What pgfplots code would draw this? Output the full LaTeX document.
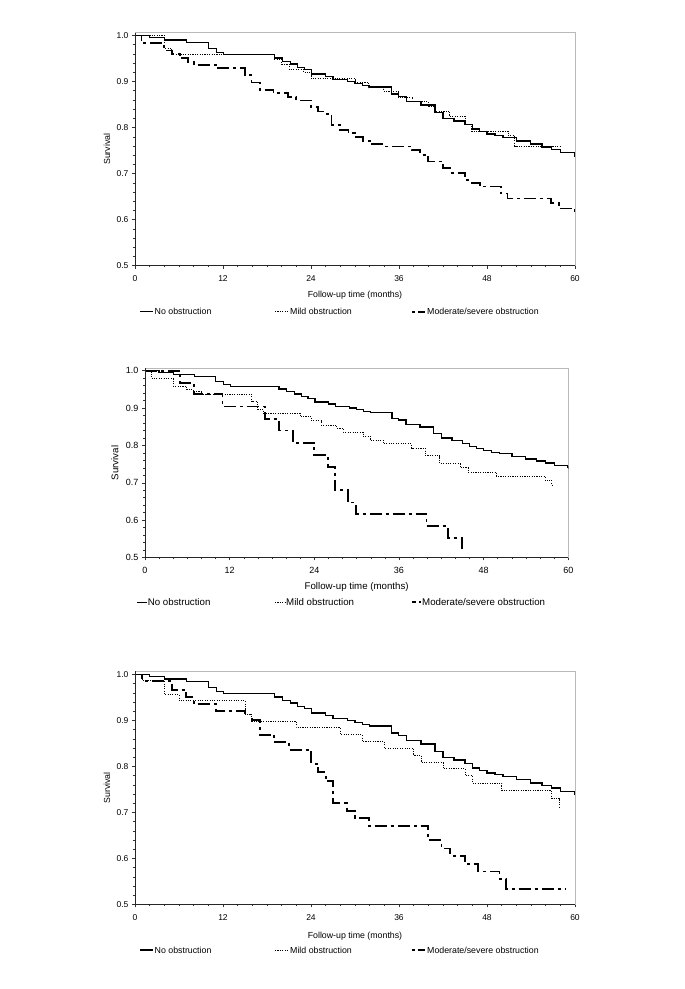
\documentclass[border=0pt]{standalone}
\usepackage{fontspec}
\setmainfont{Liberation Sans}
\usepackage{pgfplots}
\pgfplotsset{compat=1.18}

\pgfplotstableread{
x y
0 1.000
2.0 0.995
4.0 0.990
7.0 0.985
10.0 0.971
11.1 0.963
12.1 0.958
19.0 0.951
20.1 0.944
21.2 0.938
22.2 0.931
23.1 0.926
24.1 0.916
26.0 0.911
27.0 0.905
29.0 0.900
30.0 0.896
31.0 0.891
32.0 0.888
35.0 0.873
35.9 0.868
37.0 0.856
39.0 0.849
40.9 0.832
42.0 0.820
43.5 0.814
45.0 0.806
46.0 0.797
47.0 0.791
48.0 0.786
49.1 0.782
50.2 0.778
52.0 0.771
53.9 0.764
55.5 0.758
56.8 0.753
58.0 0.746
59.9 0.742
60 0.737
}\noobs

\pgfplotstableread{
x y
0 1.000
4.0 0.972
5.0 0.958
19.0 0.948
20.0 0.938
21.0 0.927
23.0 0.920
24.0 0.907
30.0 0.899
31.8 0.886
33.9 0.878
35.9 0.866
37.9 0.856
40.0 0.845
40.9 0.836
42.9 0.824
45.0 0.807
45.9 0.792
50.9 0.783
51.8 0.760
58.0 0.760
}\mildA

\pgfplotstableread{
x y
0 1.000
0.9 0.983
4.0 0.967
5.0 0.959
6.1 0.951
7.2 0.942
8.0 0.936
11.1 0.929
15.0 0.914
15.9 0.898
17.0 0.882
18.9 0.875
20.9 0.866
22.0 0.859
24.0 0.844
25.0 0.835
26.0 0.830
26.8 0.806
28.0 0.795
29.1 0.788
30.0 0.779
31.1 0.771
32.0 0.764
33.9 0.759
37.7 0.751
38.9 0.741
40.0 0.726
42.0 0.712
43.0 0.702
45.0 0.686
45.9 0.679
47.0 0.672
49.9 0.657
50.8 0.646
56.7 0.636
57.8 0.624
60 0.617
}\modA

\pgfplotstableread{
x y
0 1.000
0.9 0.979
4.0 0.959
5.9 0.950
6.8 0.944
8.0 0.937
15.1 0.917
16.0 0.896
16.8 0.886
22.0 0.877
23.6 0.866
25.0 0.854
27.2 0.846
28.1 0.836
30.9 0.825
31.9 0.814
33.8 0.804
37.8 0.793
39.7 0.773
41.8 0.751
44.7 0.740
45.8 0.728
49.8 0.718
56.7 0.707
57.6 0.694
57.9 0.694
}\mildB

\pgfplotstableread{
x y
0 1.000
5.0 0.968
6.9 0.938
11.0 0.904
17.0 0.871
19.0 0.840
21.0 0.807
24.0 0.775
25.9 0.743
26.9 0.680
28.8 0.647
29.9 0.616
39.9 0.584
42.9 0.552
44.9 0.520
}\modB

\pgfplotstableread{
x y
0 1.000
1.0 0.986
4.0 0.956
6.0 0.943
15.0 0.914
15.9 0.898
22.0 0.884
28.0 0.869
31.0 0.854
34.0 0.840
38.0 0.825
39.0 0.809
42.0 0.795
45.0 0.780
46.0 0.764
50.0 0.748
56.8 0.731
57.9 0.711
}\mildC

\pgfplotstableread{
x y
0 1.000
1.0 0.986
5.0 0.967
7.0 0.951
8.0 0.936
11.0 0.920
15.0 0.913
16.0 0.901
17.0 0.869
19.0 0.853
21.0 0.836
24.0 0.806
25.0 0.788
26.0 0.768
27.0 0.720
28.9 0.703
30.0 0.688
31.9 0.671
40.0 0.640
41.8 0.622
43.0 0.606
45.0 0.588
46.8 0.572
49.7 0.556
50.6 0.534
58.7 0.534
}\modC

\tikzset{
  lnA/.style={black, line width=1.3pt},
  lnB/.style={black, line width=0.9pt, dash pattern=on 1.1pt off 1.3pt},
  lnC/.style={black, line width=1.7pt, dash pattern=on 12pt off 4pt on 3pt off 4pt},
}

\pgfplotsset{
  kmaxis/.style={
    scale only axis,
    anchor=south west,
    xmin=0, xmax=60, ymin=0.5,
    xtick={0,12,24,36,48,60},
    minor x tick num=5,
    ytick={0.5,0.6,0.7,0.8,0.9,1.0},
    minor y tick num=4,
    yticklabel style={/pgf/number format/.cd, fixed, fixed zerofill, precision=1},
    xticklabel style={yshift=-3.5pt},
    /pgf/number format/assume math mode=true,
    tick align=outside,
    xtick pos=bottom, ytick pos=left,
    major tick length=3pt, minor tick length=1.8pt,
    axis line style={gray!55, line width=0.6pt},
    tick style={black!80, line width=0.5pt},
    every axis plot/.append style={const plot, mark=none},
  },
}

\begin{document}
\begin{tikzpicture}
\path[use as bounding box] (0pt,0pt) rectangle (685pt,989pt);

% ---------- Panel 1 ----------
\begin{axis}[kmaxis, at={(135pt,723.3pt)}, width=440pt, height=233pt, ymax=1.006,
  ticklabel style={font=\fontsize{8.5}{9}\selectfont},
  xlabel={Follow-up time (months)}, ylabel={Survival},
  label style={font=\fontsize{8.8}{10}\selectfont},
  xlabel style={at={(axis description cs:0.5,-0.126)}, anchor=center},
  ylabel style={at={(axis description cs:-0.0636,0.5)}, anchor=center},
]
\addplot[lnA] table {\noobs};
\addplot[lnB] table {\mildA};
\addplot[lnC] table {\modA};
\draw[black!85, line width=0.6pt] (rel axis cs:0,1) -- (rel axis cs:0,0) -- (rel axis cs:1,0);
\end{axis}
\begin{scope}[font=\fontsize{8.8}{10}\selectfont]
\draw[lnA] (140pt,677.3pt) -- (153pt,677.3pt); \node[anchor=west, inner sep=0pt] at (154.5pt,677.3pt) {No obstruction};
\draw[lnB] (275pt,677.3pt) -- (288pt,677.3pt); \node[anchor=west, inner sep=0pt] at (290pt,677.3pt) {Mild obstruction};
\draw[lnC, dash pattern=on 3pt off 3pt on 7pt off 2pt] (412pt,677.3pt) -- (425pt,677.3pt); \node[anchor=west, inner sep=0pt] at (427pt,677.3pt) {Moderate/severe obstruction};
\end{scope}

% ---------- Panel 2 ----------
\begin{axis}[kmaxis, at={(145pt,431.5pt)}, width=423.3pt, height=189pt, ymax=1.006,
  ticklabel style={font=\fontsize{9}{10}\selectfont},
  xlabel={Follow-up time (months)}, ylabel={Survival},
  label style={font=\fontsize{9.7}{11}\selectfont},
  xlabel style={at={(axis description cs:0.5,-0.1545)}, anchor=center},
  ylabel style={at={(axis description cs:-0.0709,0.5)}, anchor=center},
]
\addplot[lnA] table {\noobs};
\addplot[lnB] table {\mildB};
\addplot[lnC] table {\modB};
\draw[black!85, line width=0.6pt] (rel axis cs:0,1) -- (rel axis cs:0,0) -- (rel axis cs:1,0);
\end{axis}
\begin{scope}[font=\fontsize{9.7}{11}\selectfont]
\draw[lnA] (137.3pt,386.7pt) -- (146.7pt,386.7pt); \node[anchor=west, inner sep=0pt] at (147.7pt,386.7pt) {No obstruction};
\draw[lnB] (275pt,386.7pt) -- (285pt,386.7pt); \node[anchor=west, inner sep=0pt] at (286pt,386.7pt) {Mild obstruction};
\draw[lnC, dash pattern=on 4pt off 3pt on 2pt off 2pt] (412pt,386.7pt) -- (421pt,386.7pt); \node[anchor=west, inner sep=0pt] at (422pt,386.7pt) {Moderate/severe obstruction};
\end{scope}

% ---------- Panel 3 ----------
\begin{axis}[kmaxis, at={(135pt,84.5pt)}, width=440pt, height=233pt, ymax=1.0065,
  ticklabel style={font=\fontsize{8.5}{9}\selectfont},
  xlabel={Follow-up time (months)}, ylabel={Survival},
  label style={font=\fontsize{8.8}{10}\selectfont},
  xlabel style={at={(axis description cs:0.5,-0.137)}, anchor=center},
  ylabel style={at={(axis description cs:-0.0636,0.5)}, anchor=center},
]
\addplot[lnA] table {\noobs};
\addplot[lnB] table {\mildC};
\addplot[lnC] table {\modC};
\draw[black!85, line width=0.6pt] (rel axis cs:0,1) -- (rel axis cs:0,0) -- (rel axis cs:1,0);
\end{axis}
\begin{scope}[font=\fontsize{8.8}{10}\selectfont]
\draw[lnA] (140pt,39pt) -- (153pt,39pt); \node[anchor=west, inner sep=0pt] at (154.5pt,39pt) {No obstruction};
\draw[lnB] (275pt,39pt) -- (288pt,39pt); \node[anchor=west, inner sep=0pt] at (290pt,39pt) {Mild obstruction};
\draw[lnC, dash pattern=on 3pt off 3pt on 7pt off 2pt] (412pt,39pt) -- (425pt,39pt); \node[anchor=west, inner sep=0pt] at (427pt,39pt) {Moderate/severe obstruction};
\end{scope}
\end{tikzpicture}
\end{document}
